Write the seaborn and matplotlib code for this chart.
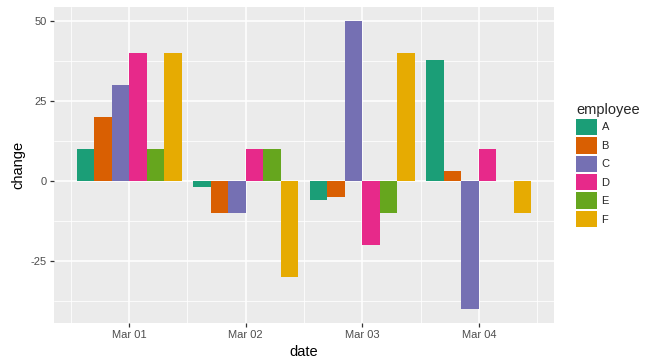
import pandas as pd
import seaborn as sns
import matplotlib.pyplot as plt
from matplotlib.ticker import FixedLocator


dates = ['Mar 01', 'Mar 02', 'Mar 03', 'Mar 04']
employees = ['A', 'B', 'C', 'D', 'E', 'F']
change_a = [10, -2, -6, 38]
change_b = [20, -10, -5, 3]
change_c = [30, -10, 50, -40]
change_d = [40, 10, -20, 10]
change_e = [10, 10, -10, 0]
change_f = [40, -30, 40, -10]

palette = ['#1B9E77', '#D95F02', '#7570B3', '#E7298A', '#66A61E', '#E6AB02']


def build_df():
    rows = []
    series = [change_a, change_b, change_c, change_d, change_e, change_f]
    for emp, vals in zip(employees, series):
        for d, v in zip(dates, vals):
            rows.append([d, emp, v])
    return pd.DataFrame(rows, columns=['date', 'employee', 'change'])


df = build_df()

sns.set_theme(style='darkgrid')
plt.rcParams['font.family'] = ['Liberation Sans', 'DejaVu Sans']
plt.rcParams['axes.unicode_minus'] = False

fig = plt.figure(figsize=(6.54, 3.64), dpi=100)
ax = fig.add_axes([54 / 654, 1 - 323 / 364, 500 / 654, 316 / 364])

sns.barplot(
    data=df, x='date', y='change', hue='employee',
    order=dates, hue_order=employees, palette=palette,
    width=0.9, linewidth=0, saturation=1, errorbar=None, ax=ax,
)

ax.set_facecolor('#EBEBEB')
for s in ax.spines.values():
    s.set_visible(False)

ax.set_xlim(-0.645, 3.645)
ax.set_ylim(-44.5, 54.5)
ax.set_yticks([-25, 0, 25, 50])
ax.set_yticklabels(['-25', '0', '25', '50'])
ax.xaxis.set_minor_locator(FixedLocator([-0.5, 0.5, 1.5, 2.5, 3.5]))
ax.yaxis.set_minor_locator(FixedLocator([-37.5, -12.5, 12.5, 37.5]))
ax.grid(which='major', color='white', linewidth=1.1)
ax.grid(which='minor', color='white', linewidth=0.55)
ax.set_axisbelow(True)
ax.tick_params(which='major', length=3, width=0.9, color='#333333',
               labelsize=8, labelcolor='#4D4D4D', pad=2, bottom=True, left=True)
ax.tick_params(which='minor', length=0)
ax.set_xlabel('date', fontsize=10.5, color='black', labelpad=4)
ax.set_ylabel('change', fontsize=10.5, color='black', labelpad=4)

# Legend, placed to the right of the panel
sns.move_legend(
    ax, 'center left',
    bbox_to_anchor=(576 / 654, 1 - 165 / 364),
    bbox_transform=fig.transFigure,
    frameon=False, title='employee', title_fontsize=10.5, fontsize=8,
    handlelength=1.9, handleheight=1.9, labelspacing=0.18,
    handletextpad=0.4, borderpad=0, borderaxespad=0,
)
ax.get_legend()._legend_box.align = 'left'

fig.savefig('out.png', dpi=100)
